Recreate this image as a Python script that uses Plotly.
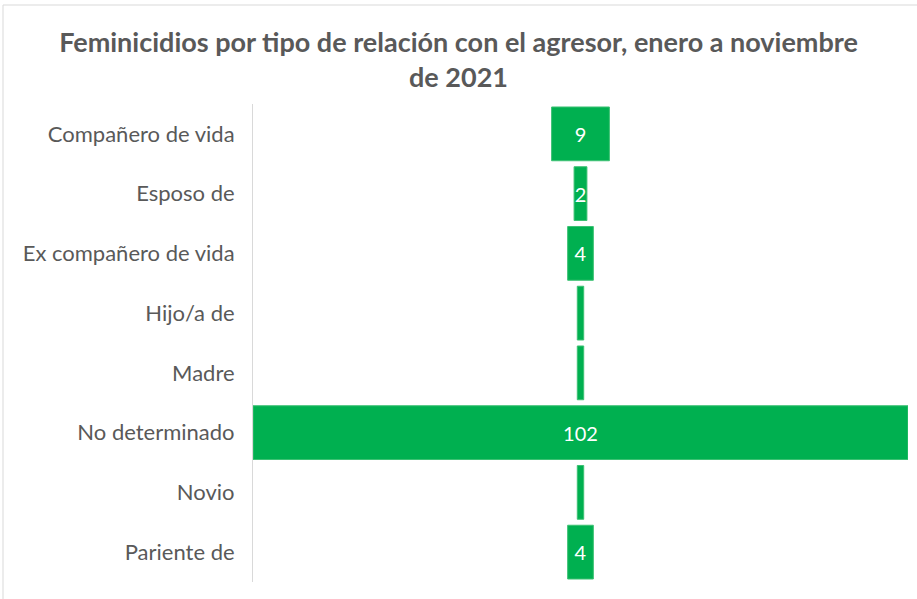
import plotly.graph_objects as go

categories = ["Compañero de vida", "Esposo de", "Ex compañero de vida", "Hijo/a de",
              "Madre", "No determinado", "Novio", "Pariente de"]
values = [9, 2, 4, 1, 1, 102, 1, 4]
labels = [str(v) if v > 1 else "" for v in values]

W, H = 917, 599
L, R, T, B = 253, 9, 104, 17
pw = W - L - R
ph = H - T - B

fig = go.Figure(go.Funnel(
    y=categories, x=values,
    text=labels, texttemplate="%{text}", textposition="inside",
    insidetextanchor="middle", constraintext="none",
    textfont=dict(color="white", size=20, family="Lato"),
    marker=dict(color="#00B050", line=dict(color="#3cc173", width=1)),
    connector=dict(visible=False),
    hoverinfo="y+x",
))

def px_x(p):
    return (p - L) / pw

def px_y(p):
    return 1 - (p - T) / ph

fig.update_layout(
    width=W, height=H,
    margin=dict(l=L, r=R, t=T, b=B),
    paper_bgcolor="white", plot_bgcolor="white",
    title=dict(text="Feminicidios por tipo de relación con el agresor, enero a noviembre<br>de 2021",
               x=0.5, xanchor="center", y=1 - 52 / H, yanchor="middle",
               font=dict(family="Lato", size=27, color="#595959", weight="bold")),
    funnelgap=0.1,
    showlegend=False,
    xaxis=dict(range=[-51, 51], visible=False),
    yaxis=dict(showline=True, linecolor="#d9d9d9", linewidth=1, ticks="",
               tickfont=dict(family="Lato", size=22, color="#595959"),
               ticklabelstandoff=13, automargin=False),
    shapes=[
        dict(type="line", xref="paper", yref="paper", x0=px_x(3), x1=px_x(917),
             y0=px_y(5), y1=px_y(5), line=dict(color="#d9d9d9", width=1)),
        dict(type="line", xref="paper", yref="paper", x0=px_x(3), x1=px_x(3),
             y0=px_y(5), y1=px_y(599), line=dict(color="#d9d9d9", width=1)),
    ],
)

fig.write_html("out.html", config={"displayModeBar": False},
               post_script="document.body.style.margin='0';document.body.style.overflow='hidden';")
